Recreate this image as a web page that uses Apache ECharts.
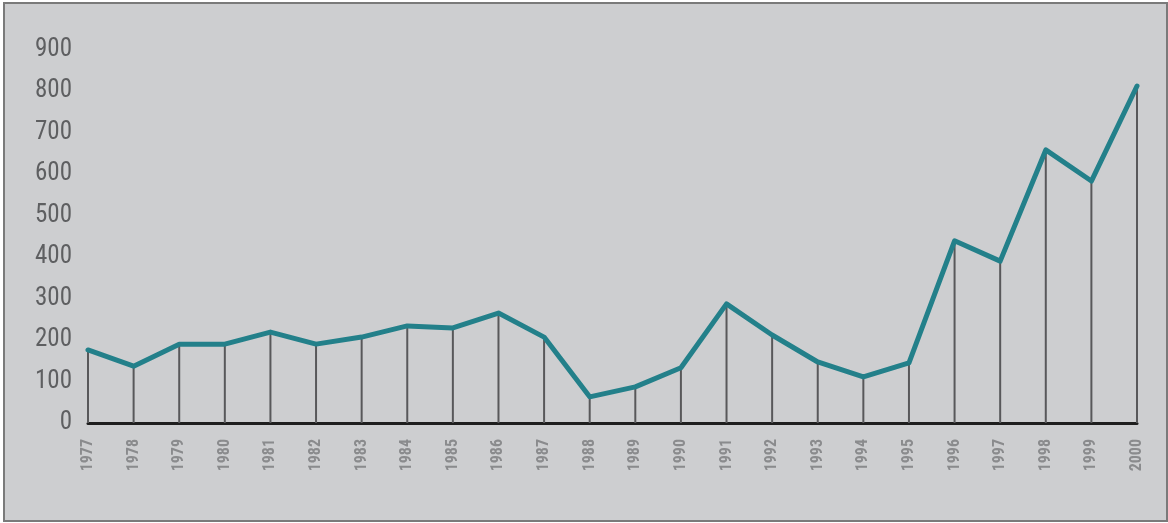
<!DOCTYPE html>
<html>
<head>
<meta charset="utf-8">
<script src="https://cdn.jsdelivr.net/npm/echarts@6/dist/echarts.min.js"></script>
<style>
html,body{margin:0;padding:0;background:#ffffff;width:1168px;height:523px;overflow:hidden;}
#frame{position:absolute;left:3px;top:2px;width:1161px;height:516px;border:2px solid #7a7a7a;background:#cdced0;}
#chart{position:absolute;left:0;top:0;width:1168px;height:523px;}
</style>
</head>
<body>
<div id="frame"></div>
<div id="chart"></div>
<script>
const years = ['1977','1978','1979','1980','1981','1982','1983','1984','1985','1986','1987','1988','1989','1990','1991','1992','1993','1994','1995','1996','1997','1998','1999','2000'];
const values = [176,137,190,190,219,190,207,234,229,265,207,63,87,133,287,212,147,111,145,439,390,658,583,812];
const yTicks = [0,100,200,300,400,500,600,700,800,900];

const chart = echarts.init(document.getElementById('chart'), null, {renderer:'canvas'});
chart.setOption({
  backgroundColor: 'transparent',
  animation: false,
  grid: {left: 88, right: 31, top: 49.5, bottom: 100, containLabel: false},
  xAxis: {
    type: 'category',
    data: years,
    boundaryGap: false,
    axisLine: {show: true, lineStyle: {color: '#1e1e1e', width: 3}},
    axisTick: {show: false},
    axisLabel: {
      rotate: 90, margin: 16, color: '#8a8b8d', fontSize: 16, fontWeight: 'bold',
      fontFamily: "'Roboto Condensed', 'Liberation Sans Narrow', Roboto, sans-serif",
      interval: 0
    },
    splitLine: {show: false}
  },
  yAxis: {
    type: 'value',
    min: yTicks[0], max: yTicks[yTicks.length-1], interval: 100,
    axisLine: {show: false},
    axisTick: {show: false},
    splitLine: {show: false},
    axisLabel: {
      margin: 16, color: '#5e5f61', fontSize: 25,
      fontFamily: "'Roboto Condensed', 'Liberation Sans Narrow', Roboto, sans-serif",
      padding: [0,0,10,0]
    }
  },
  series: [
    {
      type: 'bar', data: values, barWidth: 2, z: 1,
      itemStyle: {color: '#58585a'}, silent: true
    },
    {
      type: 'line', data: values, symbol: 'none', z: 3,
      lineStyle: {color: '#23808a', width: 5, join: 'round', cap: 'round'}
    }
  ]
});
</script>
</body>
</html>
